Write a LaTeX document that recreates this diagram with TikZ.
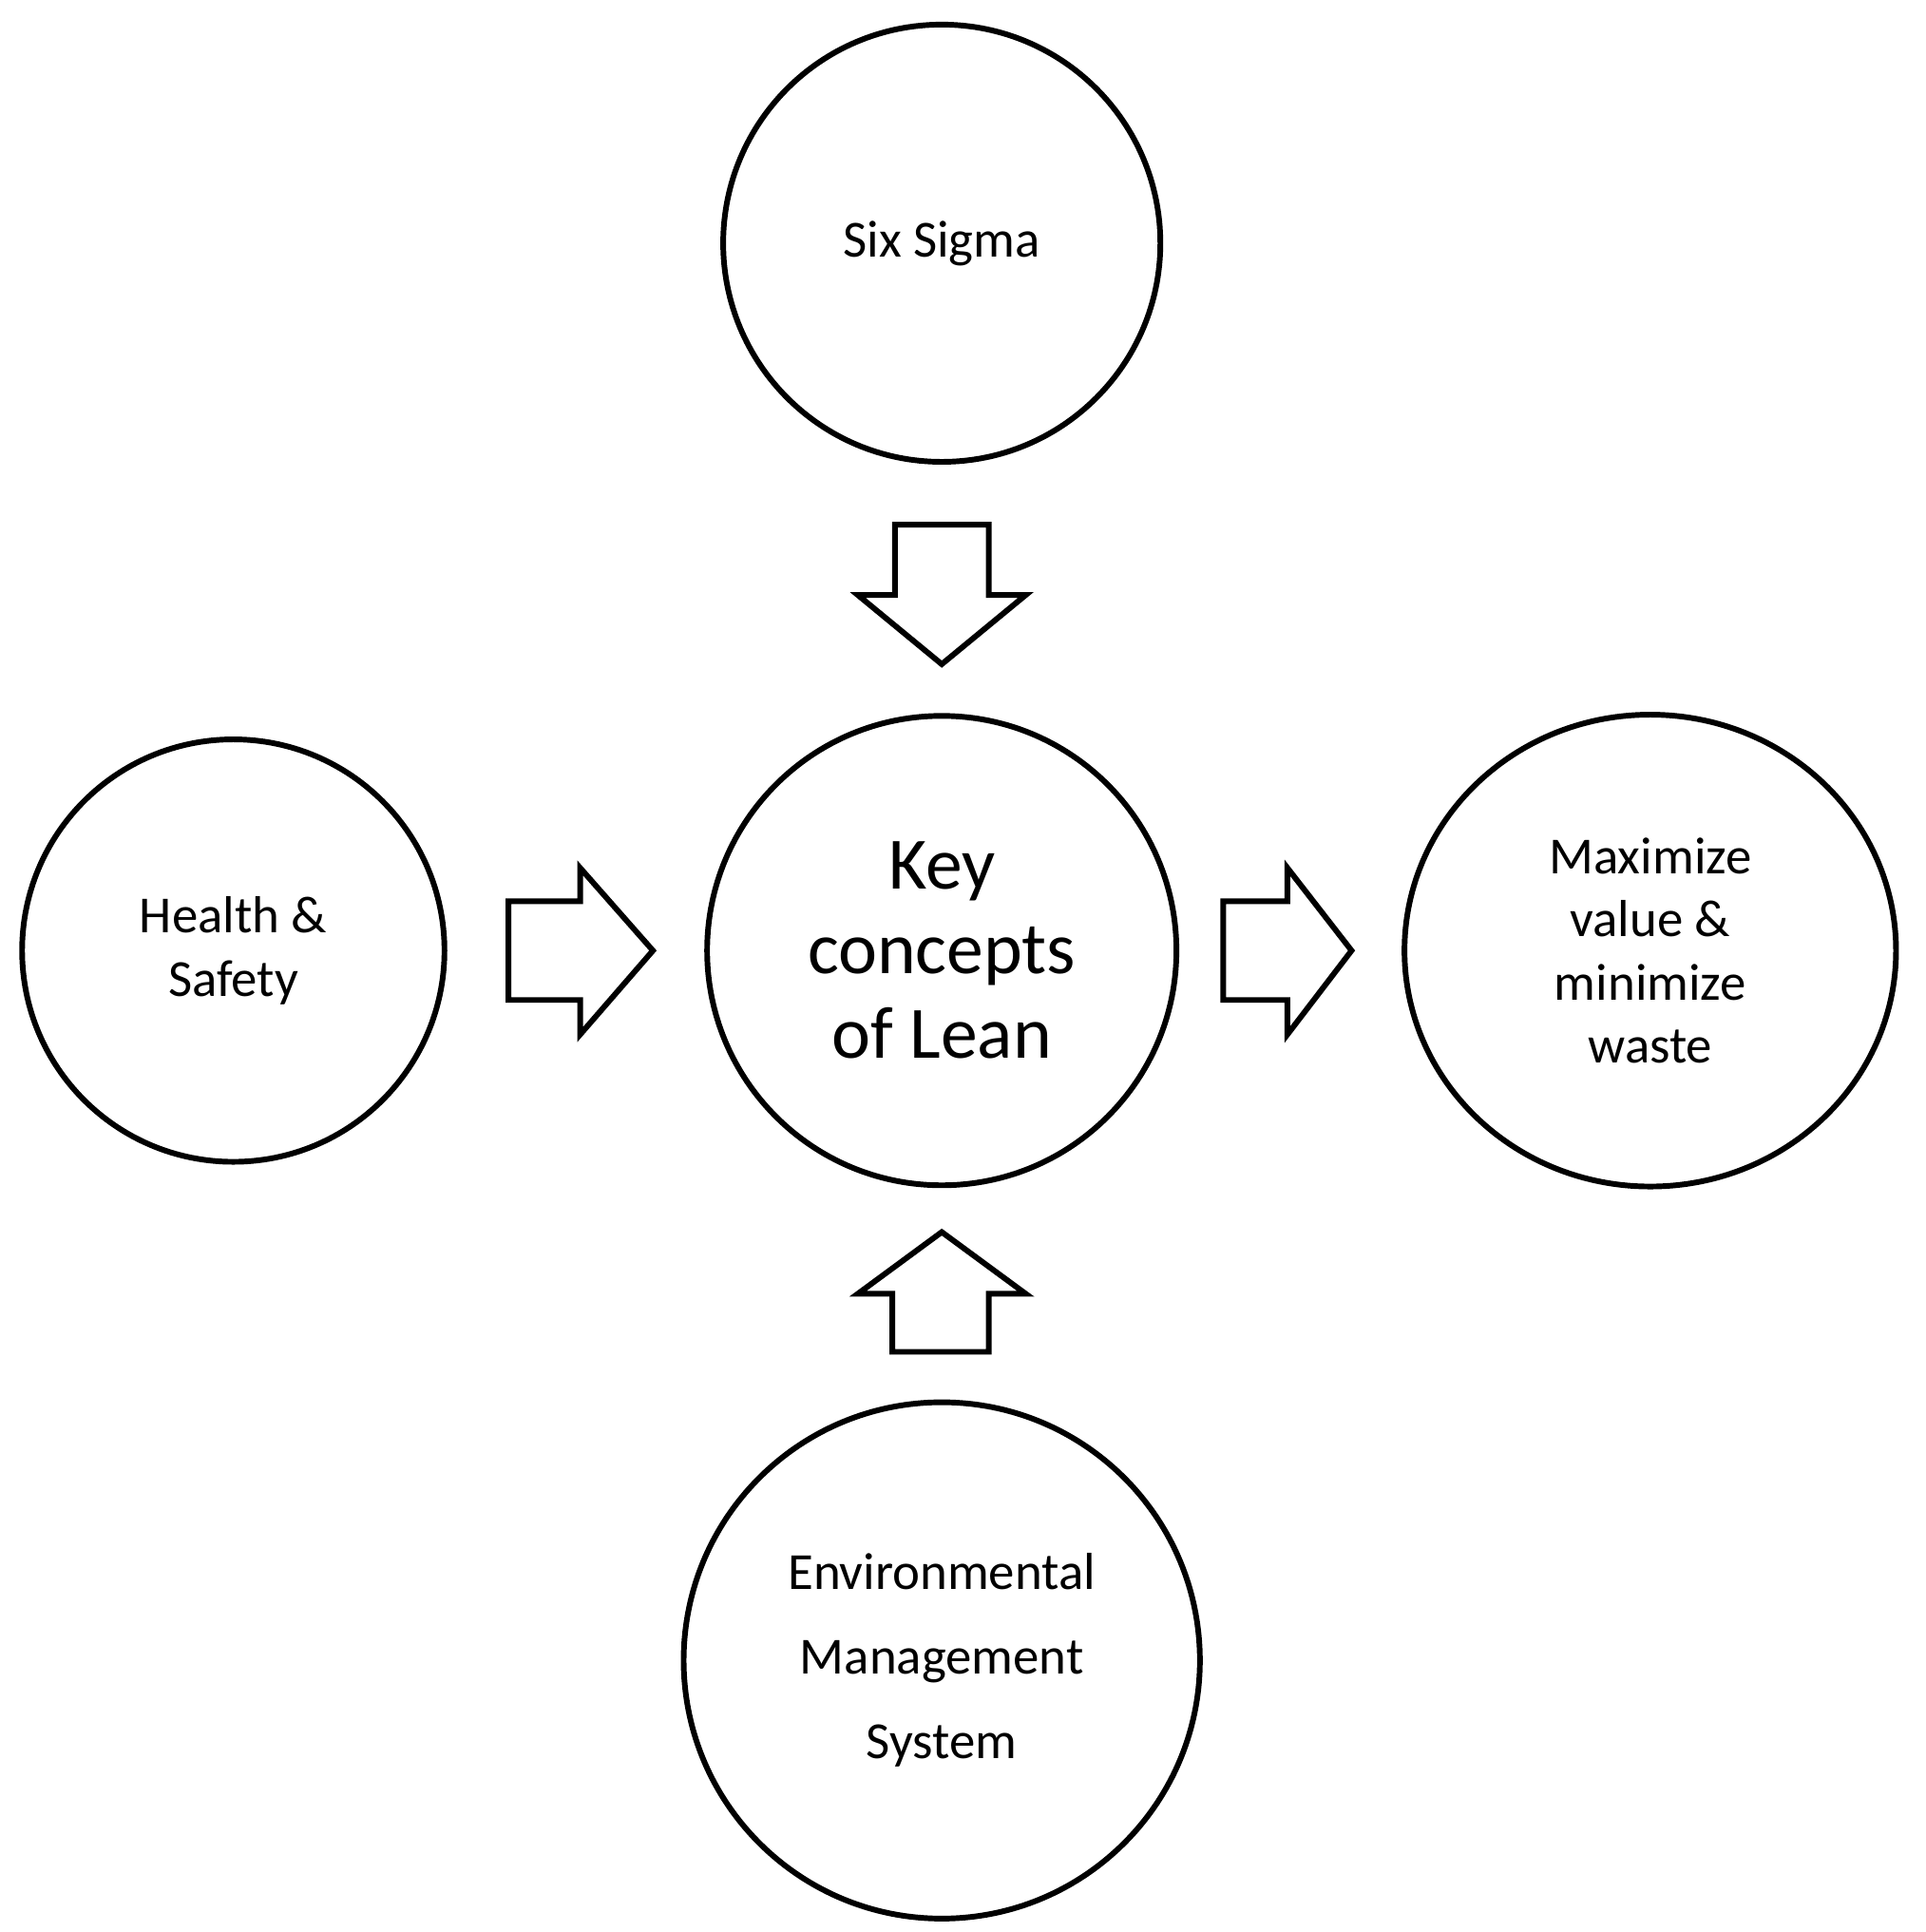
\documentclass[tikz,border=0pt]{standalone}
\usepackage{fontspec}
\setmainfont{Carlito}
\usetikzlibrary{shapes.geometric}
\begin{document}
\begin{tikzpicture}[x=0.01cm,y=-0.01cm,
  bubble/.style={draw,line width=1.3pt,align=center,inner sep=0pt,font=\fontsize{12}{14.5}\selectfont},
  fatarrow/.style={draw,line width=1.3pt,line join=miter}]
\useasboundingbox (0,0) rectangle (1560,1565);
% circles
\node[bubble,circle,minimum size=3.54cm] (sigma) at (763,197) {Six Sigma};
\node[bubble,circle,minimum size=3.8cm,font=\fontsize{17}{19.5}\selectfont] (lean) at (763,770) {Key\\concepts\\of Lean};
\node[bubble,circle,minimum size=3.42cm] (health) at (189,770) {Health \&\\Safety};
\node[bubble,ellipse,minimum width=3.98cm,minimum height=3.82cm] (value) at (1337,770) {Maximize\\value \&\\minimize\\waste};
\node[bubble,circle,minimum size=4.18cm,font=\fontsize{12}{19.5}\selectfont] (ems) at (763,1345) {Environmental\\Management\\System};
% block arrows
\draw[fatarrow] (725,425) -- (801,425) -- (801,482) -- (831,482) -- (763,538) -- (695,482) -- (725,482) -- cycle;
\draw[fatarrow] (723,1095) -- (801,1095) -- (801,1048) -- (831,1048) -- (763,998) -- (695,1048) -- (723,1048) -- cycle;
\draw[fatarrow] (412,730) -- (470,730) -- (470,703) -- (529,770) -- (470,838) -- (470,810) -- (412,810) -- cycle;
\draw[fatarrow] (991,730) -- (1043,730) -- (1043,703) -- (1095,770) -- (1043,838) -- (1043,810) -- (991,810) -- cycle;
\end{tikzpicture}
\end{document}
